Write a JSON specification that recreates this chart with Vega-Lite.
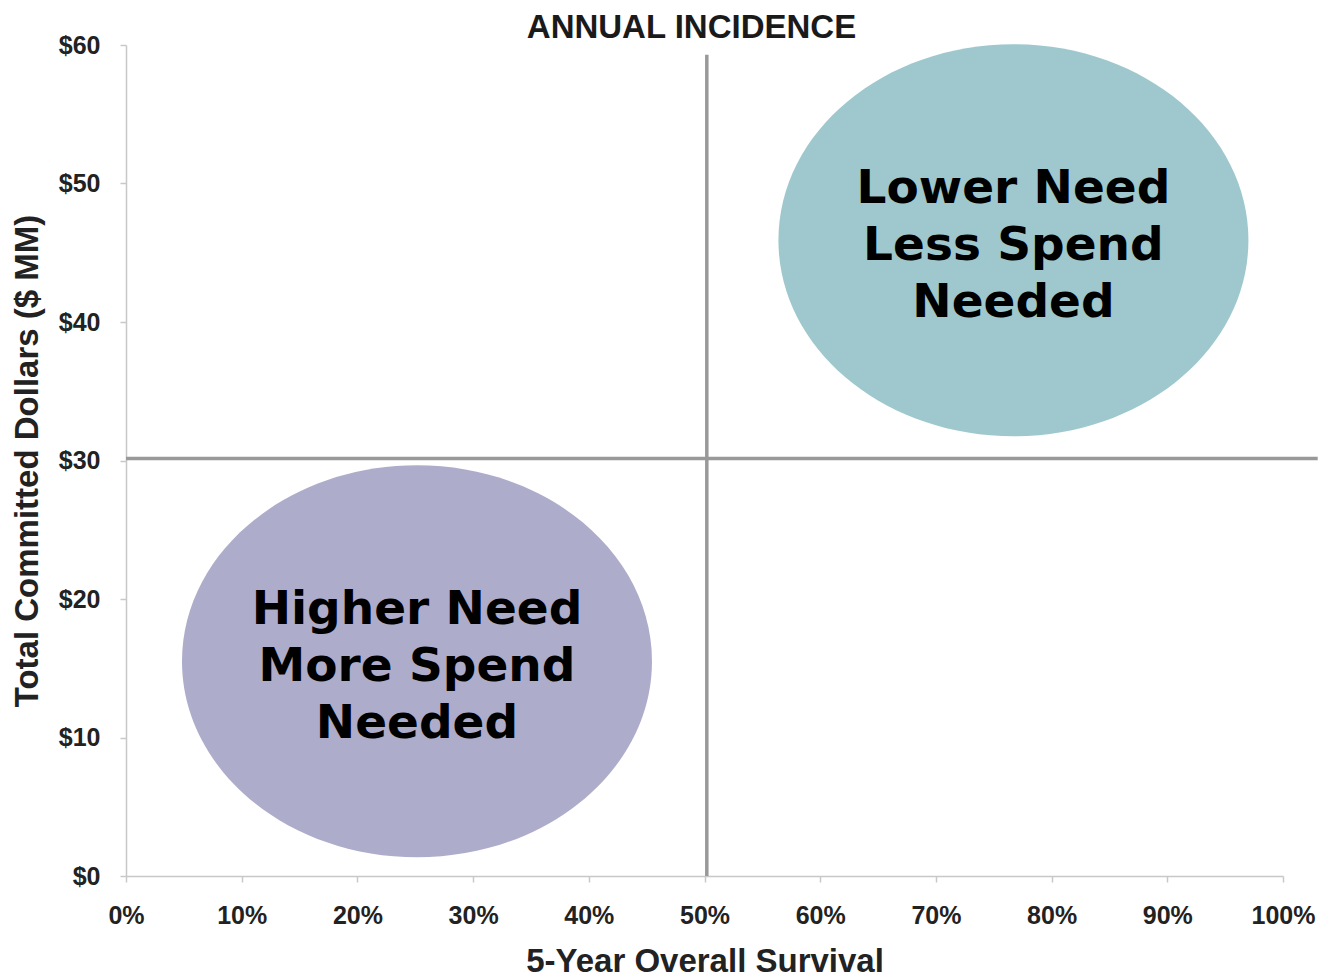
{
  "$schema": "https://vega.github.io/schema/vega-lite/v6.json",
  "autosize": "none",
  "width": 1157,
  "height": 831,
  "padding": {"left": 126, "top": 45, "right": 35, "bottom": 102},
  "background": "white",
  "title": {
    "text": "ANNUAL INCIDENCE",
    "font": "Liberation Sans",
    "fontSize": 33,
    "fontWeight": "bold",
    "color": "#1a1a1a",
    "anchor": "middle",
    "baseline": "alphabetic",
    "offset": 7,
    "dx": -13,
    "dy": 45
  },
  "config": {
    "view": {"stroke": null},
    "axis": {
      "labelFont": "Liberation Sans",
      "labelFontWeight": "bold",
      "labelFontSize": 25,
      "labelColor": "#222222",
      "titleFont": "Liberation Sans",
      "titleFontWeight": "bold",
      "titleFontSize": 33,
      "titleColor": "#222222",
      "domainColor": "#c8c8c8",
      "domainWidth": 1.5,
      "tickColor": "#c8c8c8",
      "tickWidth": 1.5,
      "tickSize": 6,
      "grid": false
    }
  },
  "datasets": {
    "regions": [
      {"survival": 0.767, "dollars": 45.9, "need": "Lower", "label": "Lower Need\nLess Spend\nNeeded"},
      {"survival": 0.2515, "dollars": 15.5, "need": "Higher", "label": "Higher Need\nMore Spend\nNeeded"}
    ],
    "dividers": [
      {"survival": 0.502, "survival2": 0.502, "dollars": 0, "dollars2": 59.3},
      {"survival": 0, "survival2": 1.03, "dollars": 30.15, "dollars2": 30.15}
    ]
  },
  "layer": [
    {
      "data": {"name": "regions"},
      "mark": {
        "type": "point",
        "filled": true,
        "opacity": 1,
        "size": 220900,
        "shape": "M 1 0 C 1 -0.4606 0.5523 -0.834 0 -0.834 C -0.5523 -0.834 -1 -0.4606 -1 0 C -1 0.4606 -0.5523 0.834 0 0.834 C 0.5523 0.834 1 0.4606 1 0 Z"
      },
      "encoding": {
        "x": {
          "field": "survival",
          "type": "quantitative",
          "scale": {"domain": [0, 1], "nice": false, "zero": true},
          "axis": {
            "title": "5-Year Overall Survival",
            "format": ".0%",
            "values": [0, 0.1, 0.2, 0.3, 0.4, 0.5, 0.6, 0.7, 0.8, 0.9, 1],
            "labelPadding": 21,
            "titlePadding": 17,
            "labelFlush": false
          }
        },
        "y": {
          "field": "dollars",
          "type": "quantitative",
          "scale": {"domain": [0, 60], "nice": false},
          "axis": {
            "title": "Total Committed Dollars ($ MM)",
            "format": "$.0f",
            "values": [0, 10, 20, 30, 40, 50, 60],
            "labelPadding": 20,
            "titlePadding": 14,
            "labelFlush": false
          }
        },
        "color": {
          "field": "need",
          "type": "nominal",
          "scale": {"domain": ["Lower", "Higher"], "range": ["#9ec8cd", "#adadcb"]},
          "legend": null
        }
      }
    },
    {
      "data": {"name": "dividers"},
      "mark": {"type": "rule", "color": "#999999", "strokeWidth": 3.5},
      "encoding": {
        "x": {"field": "survival", "type": "quantitative"},
        "x2": {"field": "survival2"},
        "y": {"field": "dollars", "type": "quantitative"},
        "y2": {"field": "dollars2"}
      }
    },
    {
      "data": {"name": "regions"},
      "mark": {
        "type": "text",
        "font": "DejaVu Sans",
        "fontWeight": "bold",
        "fontSize": 47,
        "lineHeight": 57,
        "align": "center",
        "baseline": "middle",
        "color": "#000000",
        "lineBreak": "\n",
        "dy": -51
      },
      "encoding": {
        "x": {"field": "survival", "type": "quantitative"},
        "y": {"field": "dollars", "type": "quantitative"},
        "text": {"field": "label"}
      }
    }
  ]
}
